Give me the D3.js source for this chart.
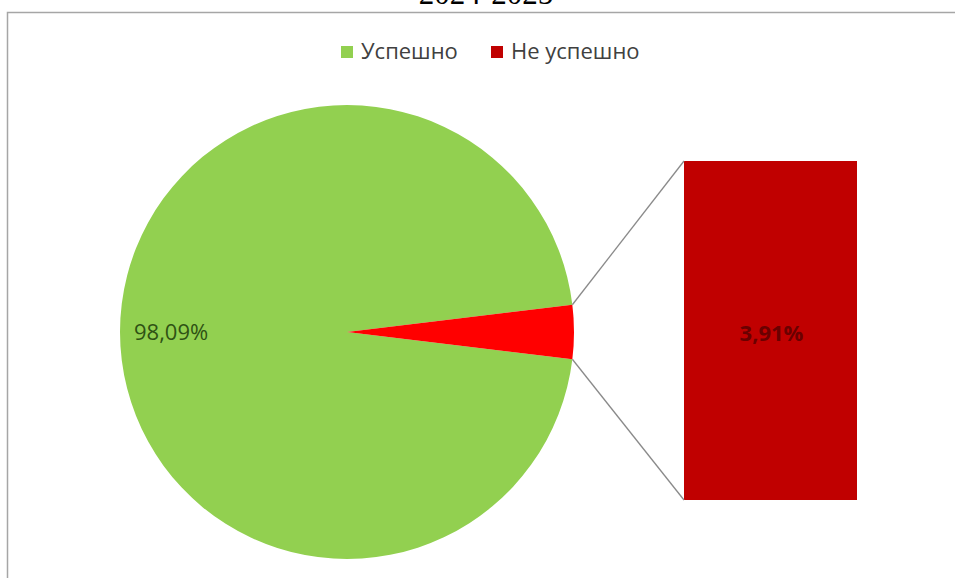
<!DOCTYPE html>
<html><head><meta charset="utf-8">
<script src="https://cdn.jsdelivr.net/npm/d3@7"></script>
<style>html,body{margin:0;padding:0;background:#fff;overflow:hidden}</style>
</head><body>
<svg id="c" width="955" height="578"></svg>
<script>
const categories = ["Успешно", "Не успешно"];
const values = [98.09, 3.91];
const labels = ["98,09%", "3,91%"];
const colors = ["#92D050", "#FF0000"];
const legendColors = ["#92D050", "#C00000"];
const title = "2024-2025";

const svg = d3.select("#c");
// title (cut off at top, as in the reference)
svg.append("text").attr("x", 486).attr("y", 4).attr("text-anchor", "middle")
  .style("font-family", "'Liberation Serif', 'Times New Roman', serif").attr("font-size", 31).attr("fill", "#000").text(title);
// frame
svg.append("path").attr("d", "M7.5,600 L7.5,12.5 L960,12.5").attr("fill", "none").attr("stroke", "#a6a6a6").attr("stroke-width", 1.5);

const ff = "'Open Sans', sans-serif";
// legend
const lg = svg.append("g").style("font-family", ff).attr("font-size", 22).attr("fill", "#404040");
const lx = [341, 491];
categories.forEach((c, i) => {
  lg.append("rect").attr("x", lx[i]).attr("y", 46).attr("width", 12).attr("height", 12).attr("fill", legendColors[i]);
  lg.append("text").attr("x", lx[i] + 20).attr("y", 59).text(c);
});

const cx = 347, cy = 332, r = 227;
const total = d3.sum(values);
const half = values[1] / total * Math.PI; // half angle of small slice
const pie = d3.pie().sort(null).startAngle(Math.PI / 2 + half).endAngle(Math.PI / 2 + half + 2 * Math.PI);
const arcs = pie(values);
const arc = d3.arc().innerRadius(0).outerRadius(r);
const g = svg.append("g").attr("transform", `translate(${cx},${cy})`);
g.selectAll("path").data(arcs).join("path").attr("d", arc).attr("fill", (d, i) => colors[i]);

// bar of pie
const y = d3.scaleLinear().domain([0, values[1]]).range([500, 161]);
const bx0 = 684, bx1 = 857;
svg.append("rect").attr("x", bx0).attr("y", y(values[1])).attr("width", bx1 - bx0).attr("height", y(0) - y(values[1])).attr("fill", "#C00000");

// connector lines
const a0 = Math.PI / 2 - half, a1 = Math.PI / 2 + half;
const p0 = [cx + r * Math.sin(a0), cy - r * Math.cos(a0)];
const p1 = [cx + r * Math.sin(a1), cy - r * Math.cos(a1)];
svg.append("line").attr("x1", p0[0]).attr("y1", p0[1]).attr("x2", bx0).attr("y2", y(values[1])).attr("stroke", "#8a8a8a").attr("stroke-width", 1.3);
svg.append("line").attr("x1", p1[0]).attr("y1", p1[1]).attr("x2", bx0).attr("y2", y(0)).attr("stroke", "#8a8a8a").attr("stroke-width", 1.3);

// labels
svg.append("text").attr("x", 134).attr("y", 340).style("font-family", ff).attr("font-size", 22).attr("fill", "#2f5214").text(labels[0]);
svg.append("text").attr("x", (bx0 + bx1) / 2 + 1).attr("y", 341).attr("text-anchor", "middle").style("font-family", ff).attr("font-weight", "bold").attr("font-size", 22).attr("fill", "#6a0000").text(labels[1]);
</script>
</body></html>
